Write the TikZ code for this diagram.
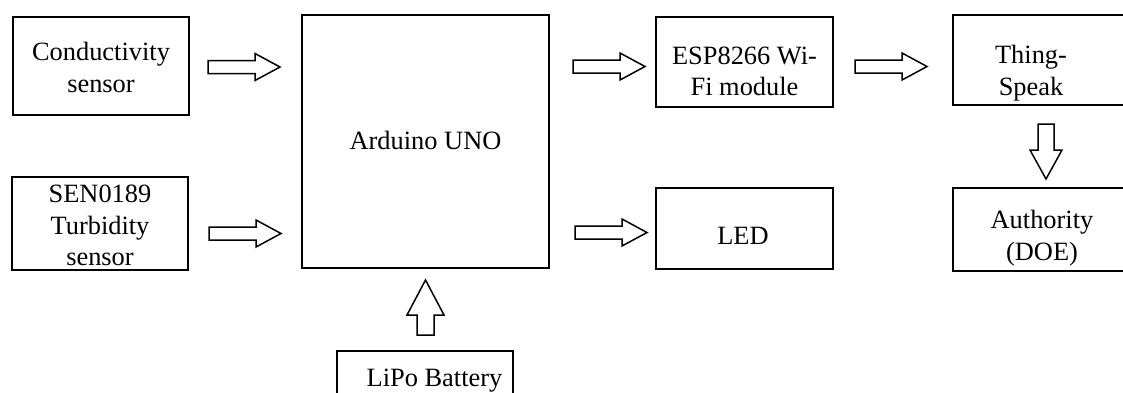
\documentclass[tikz,border=0pt]{standalone}
\usepackage{fontspec}
\setmainfont{Liberation Serif}
\newcommand\rightblock[1]{\draw[blk] (#1) ++(0,-6.5) -- ++(47,0) -- ++(0,-7) -- ++(25,13.5) -- ++(-25,13.5) -- ++(0,-7) -- ++(-47,0) -- cycle;}
\begin{document}
\begin{tikzpicture}[x=1pt,y=-1pt,
  box/.style={draw,line width=1.5pt,inner sep=0pt,rectangle},
  txt/.style={inner sep=0pt,align=center,anchor=north,font=\fontsize{26.4}{31.5}\selectfont},
  blk/.style={draw,line width=1.5pt,fill=white,line join=miter}]
\useasboundingbox (0,0) rectangle (1123,392);
% boxes (corners in px)
\node[box,minimum width=176pt,minimum height=98pt] (cond) at (101,66) {};
\node[box,minimum width=176pt,minimum height=93pt] (sen) at (100,223.5) {};
\node[box,minimum width=247pt,minimum height=253pt] (ard) at (425.5,141.5) {};
\node[box,minimum width=177pt,minimum height=90pt] (esp) at (744.5,62) {};
\node[box,minimum width=173pt,minimum height=90pt] (thing) at (1039.5,60) {};
\node[box,minimum width=173pt,minimum height=83pt] (auth) at (1039.5,229.5) {};
\node[box,minimum width=177pt,minimum height=81pt] (led) at (744.5,228.5) {};
\node[box,minimum width=176pt,minimum height=60pt] (lipo) at (425,381) {};
% texts (anchored at top of first line)
\node[txt] (tcond) at (101,42) {Conductivity\\sensor};
\node[txt] (tsen) at (100,185) {SEN0189\\Turbidity\\sensor};
\node[txt] (tard) at (425.5,131) {Arduino UNO};
\node[txt] (tesp) at (744.5,46.5) {ESP8266 Wi-\\Fi module};
\node[txt] (tthing) at (1031,45) {Thing-\\Speak};
\node[txt] (tauth) at (1042,210) {Authority\\(DOE)};
\node[txt] (tled) at (743,227.5) {LED};
\node[txt] (tlipo) at (434.5,369) {LiPo Battery};
% block arrows
\coordinate (a1) at (208,67);
\coordinate (a2) at (573,66.5);
\coordinate (a3) at (855,66.5);
\coordinate (a4) at (209,233.5);
\coordinate (a5) at (575,232.5);
\rightblock{a1}
\rightblock{a2}
\rightblock{a3}
\rightblock{a4}
\rightblock{a5}
\coordinate (dtail) at (1046,124);
\draw[blk] (dtail) ++(-8,0) -- ++(0,26) -- ++(-8,0) -- ++(16,29) -- ++(16,-29) -- ++(-8,0) -- ++(0,-26) -- cycle;
\coordinate (utail) at (425.5,335);
\draw[blk] (utail) ++(-8.5,0) -- ++(0,-20) -- ++(-10,0) -- ++(18.5,-35) -- ++(18.5,35) -- ++(-10,0) -- ++(0,20) -- cycle;
\end{tikzpicture}
\end{document}
